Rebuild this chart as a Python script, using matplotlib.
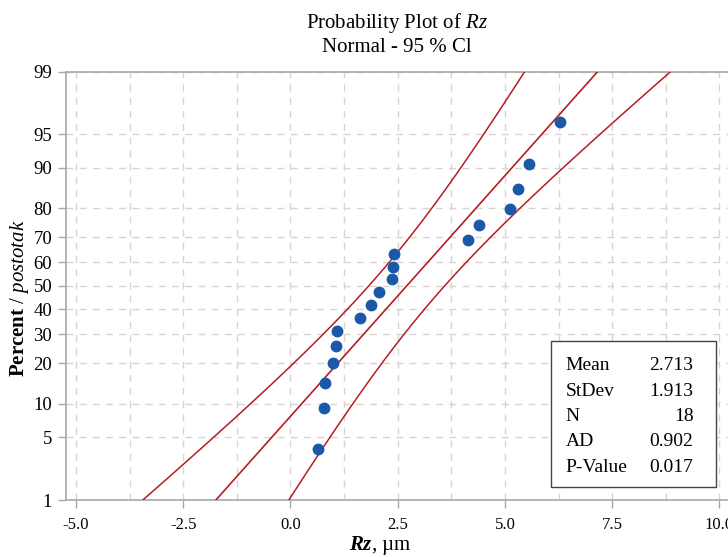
import numpy as np
import matplotlib
matplotlib.use('Agg')
import matplotlib.pyplot as plt
from matplotlib.patches import Rectangle
from statistics import NormalDist

plt.rcParams['font.family'] = ['Liberation Serif', 'DejaVu Serif']
plt.rcParams['mathtext.fontset'] = 'custom'
plt.rcParams['mathtext.rm'] = 'Liberation Serif'
plt.rcParams['mathtext.it'] = 'Liberation Serif:italic'
plt.rcParams['mathtext.bf'] = 'Liberation Serif:bold'
plt.rcParams['mathtext.bfit'] = 'Liberation Serif:italic:bold'

# izmjerene vrijednosti Rz (µm), sortirane
rz = [0.648, 0.781, 0.804, 0.998, 1.061, 1.091, 1.620, 1.876, 2.056,
      2.359, 2.396, 2.420, 4.149, 4.394, 5.117, 5.310, 5.566, 6.282]

# statistika iz tablice
mean = 2.713
stdev = 1.913
n = 18
ad = 0.902
p_value = 0.017

pct_ticks = [1, 5, 10, 20, 30, 40, 50, 60, 70, 80, 90, 95, 99]
x_ticks = [-5.0, -2.5, 0.0, 2.5, 5.0, 7.5, 10.0]

nd = NormalDist()
z = lambda p: nd.inv_cdf(p)

# pozicije točaka (median rank)
ranks = np.arange(1, n + 1)
p_pts = (ranks - 0.3) / (n + 0.4)
z_pts = np.array([z(p) for p in p_pts])

# linija i 95 % CI
zlo, zhi = z(0.01), z(0.99)
zz = np.linspace(zlo, zhi, 200)
xfit = mean + stdev * zz
se = stdev * np.sqrt(1.0 / n + zz ** 2 / (2 * n))
xlow = xfit - 1.96 * se
xhigh = xfit + 1.96 * se

fig = plt.figure(figsize=(7.28, 5.57), dpi=100)
ax = fig.add_axes([0.0907, 0.1023, 0.9093, 0.7693])

red = '#b41e22'
ax.plot(xfit, zz, color=red, lw=1.2, zorder=3)
ax.plot(xlow, zz, color=red, lw=1.1, zorder=3)
ax.plot(xhigh, zz, color=red, lw=1.1, zorder=3)
ax.plot(rz, z_pts, 'o', color='#1c58a8', ms=7.5, mec='#1c58a8', zorder=4)

ax.set_xlim(-5.23, 10.2)
ax.set_ylim(zlo, zhi)
ax.set_xticks(x_ticks)
ax.set_xticklabels(['%.1f' % v for v in x_ticks])
ax.set_xticks(np.arange(-5.0, 10.01, 1.25), minor=True)
ax.set_yticks([z(p / 100) for p in pct_ticks])
ax.set_yticklabels([str(p) for p in pct_ticks])

grid_kw = dict(color='#dbd2d2', lw=1.0, ls=(0, (5, 4.5)))
ax.grid(True, which='both', axis='x', **grid_kw)
ax.grid(True, which='major', axis='y', **grid_kw)
ax.set_axisbelow(True)

for s in ['left', 'bottom', 'top']:
    ax.spines[s].set_color('#a8a8a8')
    ax.spines[s].set_linewidth(1.2)
ax.spines['right'].set_visible(False)
ax.tick_params(which='major', direction='out', length=6, width=1.0,
               color='#a8a8a8', labelsize=12, pad=4)
ax.tick_params(which='minor', length=0)
ax.tick_params(axis='x', pad=6)
ax.tick_params(axis='y', labelsize=13.5)

ax.set_title('Probability Plot of $\\mathit{Rz}$\nNormal - 95 % Cl',
             fontsize=15, linespacing=1.25, pad=14)
ax.set_ylabel('$\\mathbf{Percent}$ / $\\mathit{postotak}$', fontsize=15)
ax.yaxis.set_label_coords(-0.053, 0.472)
ax.set_xlabel('$\\mathbfit{Rz}$, µm', fontsize=15)
ax.xaxis.set_label_coords(0.474, -0.080)

# okvir sa statistikom
ax.add_patch(Rectangle((0.733, 0.030), 0.249, 0.340, transform=ax.transAxes,
                       facecolor='white', edgecolor='#444444', lw=1.0, zorder=5))
labels = ['Mean', 'StDev', 'N', 'AD', 'P-Value']
values = ['%.3f' % mean, '%.3f' % stdev, str(n), '%.3f' % ad, '%.3f' % p_value]
ys = [0.313, 0.253, 0.194, 0.136, 0.077]
for lab, val, yy in zip(labels, values, ys):
    ax.text(0.755, yy, lab, transform=ax.transAxes, fontsize=14,
            va='center', ha='left', zorder=6)
    ax.text(0.948, yy, val, transform=ax.transAxes, fontsize=14,
            va='center', ha='right', zorder=6)

fig.savefig('out.png', dpi=100)
